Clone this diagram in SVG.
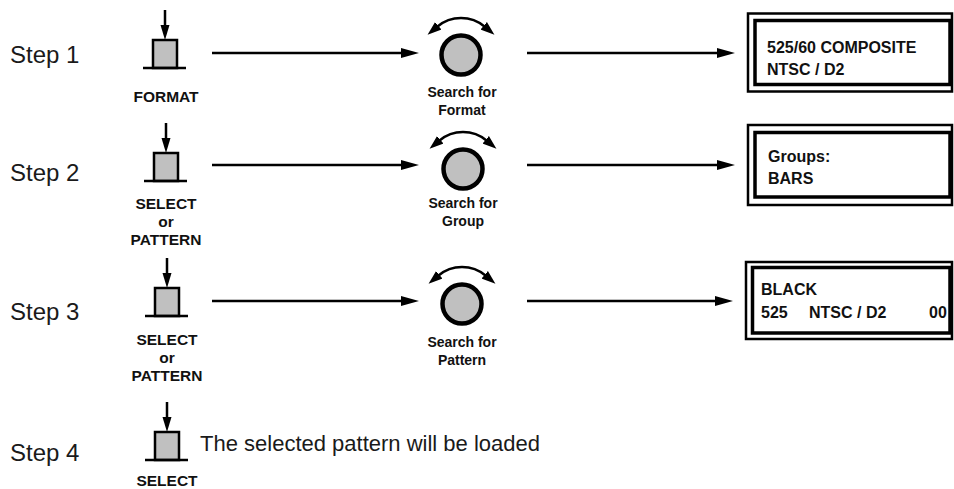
<svg xmlns="http://www.w3.org/2000/svg" width="954" height="489" viewBox="0 0 954 489">
<defs>
<style>
.step{font-family:"Liberation Sans",Arial,sans-serif;font-size:24px;fill:#1a1a1a}
.lbl{font-family:"Liberation Sans",Arial,sans-serif;font-size:15.5px;font-weight:bold;fill:#111;text-anchor:middle}
.klbl{font-family:"Liberation Sans",Arial,sans-serif;font-size:14px;font-weight:bold;fill:#111;text-anchor:middle}
.disp{font-family:"Liberation Sans",Arial,sans-serif;font-size:16px;font-weight:bold;fill:#111}
.note{font-family:"Liberation Sans",Arial,sans-serif;font-size:22px;fill:#1a1a1a}
.ln{stroke:#000;stroke-width:2.5;fill:none}
.btn{fill:#c0c0c0;stroke:#000;stroke-width:2.5}
.knob{fill:#c0c0c0;stroke:#000;stroke-width:4.5}
.arc{stroke:#000;stroke-width:2.5;fill:none;marker-start:url(#ah);marker-end:url(#ah)}
.outer{fill:#fff;stroke:#000;stroke-width:2.5}
.inner{fill:none;stroke:#000;stroke-width:3.5}
</style>
<marker id="ah" viewBox="0 0 20 14" refX="2" refY="7" markerWidth="14" markerHeight="10" markerUnits="userSpaceOnUse" orient="auto-start-reverse">
<path d="M0,0 L20,7 L0,14 z" fill="#000"/>
</marker>
<path id="dart" d="M0,0 L-18,-5 L-18,5 Z" fill="#000"/>
<g id="button">
<line x1="0" y1="-30" x2="0" y2="-14" class="ln"/>
<path d="M0,0 L-4.5,-15 L4.5,-15 Z" fill="#000"/>
<rect x="-12" y="0" width="24" height="28" class="btn"/>
<line x1="-22" y1="28" x2="21" y2="28" class="ln"/>
</g>
<g id="knob">
<circle cx="0" cy="0" r="19.5" class="knob"/>
<path d="M-23.8,-28.3 A37,37 0 0 1 23.8,-28.3" class="arc"/>
</g>
</defs>

<g id="step-labels">
<text class="step" x="10" y="63">Step 1</text>
<text class="step" x="10" y="181">Step 2</text>
<text class="step" x="10" y="320">Step 3</text>
<text class="step" x="10" y="461">Step 4</text>
</g>

<g id="connectors">
<line x1="212" y1="53" x2="403" y2="53" class="ln"/>
<use href="#dart" x="419" y="53"/>
<line x1="527" y1="53" x2="719" y2="53" class="ln"/>
<use href="#dart" x="735" y="53"/>
<line x1="212" y1="165" x2="403" y2="165" class="ln"/>
<use href="#dart" x="419" y="165"/>
<line x1="527" y1="165" x2="719" y2="165" class="ln"/>
<use href="#dart" x="735" y="165"/>
<line x1="212" y1="301" x2="403" y2="301" class="ln"/>
<use href="#dart" x="419" y="301"/>
<line x1="527" y1="301" x2="717" y2="301" class="ln"/>
<use href="#dart" x="733" y="301"/>
</g>

<g id="btn-format">
<use href="#button" x="165" y="40"/>
<text class="lbl" x="166" y="102">FORMAT</text>
</g>
<g id="btn-select-2">
<use href="#button" x="166" y="153"/>
<text class="lbl" x="166" y="209">SELECT</text>
<text class="lbl" x="166" y="227">or</text>
<text class="lbl" x="166" y="245">PATTERN</text>
</g>
<g id="btn-select-3">
<use href="#button" x="167" y="288"/>
<text class="lbl" x="167" y="345">SELECT</text>
<text class="lbl" x="167" y="363">or</text>
<text class="lbl" x="167" y="381">PATTERN</text>
</g>
<g id="btn-select-4">
<use href="#button" x="167" y="432"/>
<text class="lbl" x="167" y="486">SELECT</text>
<text class="note" x="200" y="451">The selected pattern will be loaded</text>
</g>

<g id="knob-format">
<use href="#knob" x="461" y="55"/>
<text class="klbl" x="462" y="97">Search for</text>
<text class="klbl" x="462" y="115">Format</text>
</g>
<g id="knob-group">
<use href="#knob" x="463" y="169"/>
<text class="klbl" x="463" y="208">Search for</text>
<text class="klbl" x="463" y="226">Group</text>
</g>
<g id="knob-pattern">
<use href="#knob" x="462" y="304"/>
<text class="klbl" x="462" y="347">Search for</text>
<text class="klbl" x="462" y="365">Pattern</text>
</g>

<g id="display-1">
<rect x="748" y="13.5" width="204" height="78" class="outer"/>
<rect x="755" y="20.5" width="195" height="64" class="inner"/>
<text class="disp" x="767" y="53">525/60 COMPOSITE</text>
<text class="disp" x="767" y="75">NTSC / D2</text>
</g>
<g id="display-2">
<rect x="748" y="125" width="204" height="80" class="outer"/>
<rect x="755" y="132.5" width="195" height="64.5" class="inner"/>
<text class="disp" x="768" y="162">Groups:</text>
<text class="disp" x="768" y="184">BARS</text>
</g>
<g id="display-3">
<rect x="746" y="262" width="206" height="77" class="outer"/>
<rect x="752.5" y="267.5" width="197.5" height="65.5" class="inner"/>
<text class="disp" x="761" y="295">BLACK</text>
<text class="disp" x="761" y="318">525</text>
<text class="disp" x="809" y="318">NTSC / D2</text>
<text class="disp" x="929" y="318">00</text>
</g>
</svg>
